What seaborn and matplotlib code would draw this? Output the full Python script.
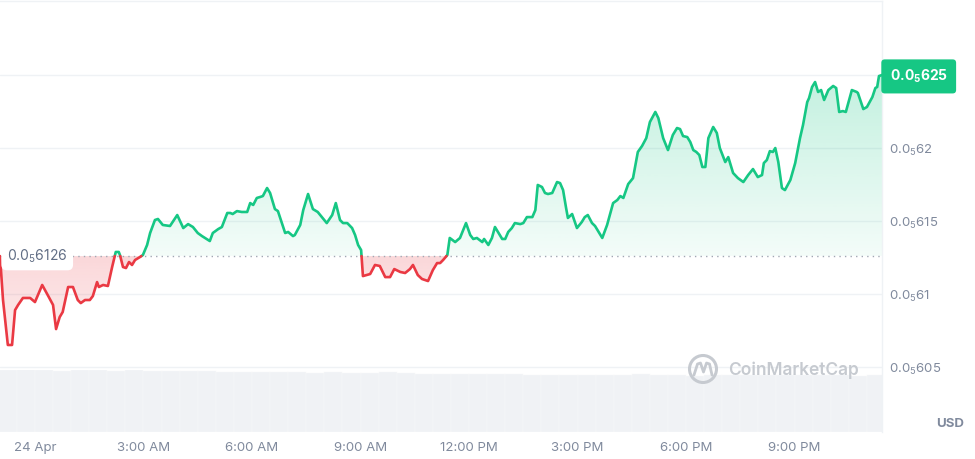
import numpy as np
import pandas as pd
import matplotlib
matplotlib.use("Agg")
import matplotlib.pyplot as plt
import seaborn as sns
from matplotlib.patches import PathPatch, Ellipse
from matplotlib.path import Path
from matplotlib.lines import Line2D
from matplotlib.colors import to_rgb

# --- DATA ---
# time: minutes from 00:00 on 24 Apr; price: in units of 1e-6 USD (6.25 -> 0.0_5 625)
minutes = [
    -58, -53, -45, -38, -33, -28, -20, -8, 0, 12,
    23, 30, 35, 41, 46, 55, 63, 71, 76, 83,
    91, 96, 103, 106, 113, 121, 128, 134, 139, 141,
    146, 151, 156, 161, 166, 174, 179, 186, 191, 199,
    204, 212, 224, 236, 246, 254, 262, 270, 277, 282,
    290, 295, 304, 310, 319, 324, 328, 335, 343, 352,
    357, 362, 368, 373, 378, 385, 390, 398, 403, 415,
    420, 428, 431, 440, 445, 453, 461, 469, 484, 493,
    499, 506, 511, 518, 526, 531, 536, 541, 544, 556,
    564, 572, 581, 589, 596, 606, 614, 622, 627, 635,
    642, 652, 660, 667, 672, 677, 684, 688, 697, 705,
    715, 722, 727, 733, 742, 745, 752, 758, 763, 768,
    775, 780, 785, 791, 796, 805, 810, 816, 825, 830,
    834, 841, 846, 851, 858, 866, 871, 876, 881, 884,
    891, 899, 907, 912, 917, 924, 929, 941, 949, 959,
    966, 971, 976, 984, 992, 1000, 1007, 1014, 1020, 1029,
    1034, 1042, 1050, 1058, 1065, 1070, 1075, 1082, 1087, 1092,
    1097, 1102, 1107, 1112, 1117, 1125, 1131, 1136, 1145, 1150,
    1158, 1166, 1175, 1183, 1191, 1199, 1206, 1209, 1214, 1219,
    1224, 1228, 1233, 1239, 1244, 1253, 1261, 1269, 1274, 1281,
    1284, 1289, 1294, 1299, 1304, 1309, 1316, 1324, 1329, 1334,
    1340, 1345, 1355, 1363, 1365, 1374, 1380, 1389, 1394, 1397, 1400, 1405,
]
price = [
    6.126, 6.0959, 6.0651, 6.0651, 6.0890, 6.0925, 6.0973, 6.0973, 6.0945, 6.1062,
    6.0979, 6.0925, 6.0760, 6.0842, 6.0877, 6.1048, 6.1048, 6.0959, 6.0938, 6.0959,
    6.0959, 6.0986, 6.1082, 6.1048, 6.1062, 6.1055, 6.1185, 6.1288, 6.1288, 6.1267,
    6.1185, 6.1178, 6.1219, 6.1199, 6.1233, 6.1253, 6.1267, 6.1336, 6.1418, 6.1507,
    6.1514, 6.1473, 6.1466, 6.1541, 6.1452, 6.1479, 6.1459, 6.1418, 6.1397, 6.1384,
    6.1363, 6.1418, 6.1445, 6.1459, 6.1555, 6.1555, 6.1548, 6.1568, 6.1562, 6.1562,
    6.1623, 6.1610, 6.1658, 6.1664, 6.1671, 6.1726, 6.1692, 6.1582, 6.1568, 6.1418,
    6.1425, 6.1397, 6.1404, 6.1473, 6.1575, 6.1685, 6.1582, 6.1562, 6.1486, 6.1541,
    6.1623, 6.1507, 6.1486, 6.1486, 6.1452, 6.1404, 6.1336, 6.1301, 6.1123, 6.1137,
    6.1199, 6.1192, 6.1116, 6.1116, 6.1171, 6.1151, 6.1144, 6.1171, 6.1199, 6.1130,
    6.1103, 6.1089, 6.1164, 6.1212, 6.1212, 6.1233, 6.1267, 6.1384, 6.1356, 6.1384,
    6.1486, 6.1404, 6.1377, 6.1384, 6.1356, 6.1377, 6.1336, 6.1384, 6.1459, 6.1425,
    6.1377, 6.1377, 6.1425, 6.1452, 6.1486, 6.1479, 6.1486, 6.1527, 6.1527, 6.1575,
    6.1747, 6.1733, 6.1692, 6.1685, 6.1692, 6.1767, 6.1760, 6.1712, 6.1589, 6.1521,
    6.1548, 6.1452, 6.1493, 6.1527, 6.1541, 6.1486, 6.1466, 6.1384, 6.1473, 6.1623,
    6.1644, 6.1671, 6.1658, 6.1753, 6.1794, 6.1973, 6.2014, 6.2068, 6.2178, 6.2247,
    6.2205, 6.2068, 6.1986, 6.2089, 6.2137, 6.2130, 6.2082, 6.2075, 6.2041, 6.1986,
    6.1973, 6.1952, 6.1870, 6.1870, 6.2068, 6.2144, 6.2103, 6.2000, 6.1904, 6.1938,
    6.1829, 6.1794, 6.1767, 6.1815, 6.1856, 6.1801, 6.1815, 6.1897, 6.1918, 6.1979,
    6.1973, 6.2000, 6.1904, 6.1726, 6.1712, 6.1781, 6.1897, 6.2068, 6.2158, 6.2315,
    6.2342, 6.2418, 6.2452, 6.2384, 6.2397, 6.2329, 6.2397, 6.2425, 6.2411, 6.2247,
    6.2253, 6.2247, 6.2397, 6.2384, 6.2377, 6.2267, 6.2281, 6.2349, 6.2411, 6.2418, 6.2493, 6.2500,
]

# volume, 30 minute buckets starting at 23:00 on 23 Apr (relative units)
vol_start = -60
vol_step = 30
volume = [
    100, 101, 100, 99, 100, 100, 99, 100, 99, 99,
    98, 98, 97, 96, 97, 96, 96, 95, 96, 95,
    95, 96, 95, 94, 94, 93, 93, 93, 93, 92,
    92, 92, 92, 92, 92, 93, 92, 92, 91, 92,
    92, 92, 92, 92, 92, 92, 92, 91, 92,
]

tick_minutes = [0, 180, 360, 540, 720, 900, 1080, 1260]
tick_labels = ["24 Apr", "3:00 AM", "6:00 AM", "9:00 AM",
               "12:00 PM", "3:00 PM", "6:00 PM", "9:00 PM"]
price_ticks = [6.05, 6.10, 6.15, 6.20, 6.25]

GREEN = "#16c784"
RED = "#ea3943"
GREY = "#808a9d"
GRID = "#eff2f5"


def sub_label(v):
    digits = f"{v:.4f}".rstrip("0").rstrip(".").replace(".", "")
    return "0.0$_5$" + digits


def split_at_base(t, p, base):
    """Insert crossing points and tag each run above/below the base price."""
    d = p - base
    sides = np.sign(d)
    for i in range(len(sides)):
        if sides[i] == 0:
            sides[i] = sides[i + 1] if i + 1 < len(sides) else sides[i - 1]
    rows, seg = [], 0
    for i in range(len(t)):
        side = "up" if sides[i] > 0 else "down"
        rows.append((t[i], p[i], seg, side))
        if i + 1 < len(t) and sides[i + 1] != sides[i]:
            if p[i + 1] != p[i]:
                tc = t[i] + (base - p[i]) / (p[i + 1] - p[i]) * (t[i + 1] - t[i])
            else:
                tc = t[i]
            rows.append((tc, base, seg, side))
            seg += 1
            nside = "up" if sides[i + 1] > 0 else "down"
            rows.append((tc, base, seg, nside))
    return pd.DataFrame(rows, columns=["t", "p", "seg", "side"])


def gradient_fill(ax, t, lo, hi, color, a_top, a_bottom, y0, y1):
    coll = ax.fill_between(t, lo, hi, facecolor="none", edgecolor="none")
    path = Path.make_compound_path(*coll.get_paths())
    clip = PathPatch(path, transform=ax.transData, facecolor="none", edgecolor="none")
    ax.add_patch(clip)
    rgb = to_rgb(color)
    img = np.zeros((200, 1, 4))
    img[:, 0, :3] = rgb
    img[:, 0, 3] = np.linspace(a_bottom, a_top, 200)
    im = ax.imshow(img, extent=[t.min(), t.max(), y0, y1], origin="lower",
                   aspect="auto", zorder=1, interpolation="bilinear")
    im.set_clip_path(clip)


sns.set_theme(style="white")
plt.rcParams["font.family"] = ["Inter", "DejaVu Sans"]
plt.rcParams["mathtext.default"] = "regular"

W, H = 975, 459
fig = plt.figure(figsize=(W / 100, H / 100), dpi=100)
fig.patch.set_facecolor("white")

ax_l, ax_b, ax_w = 0.0, 27 / H, 882 / W
ax_h = 431 / H
xlim = (-58, 1405)
ylim = (6.0055, 6.3007)

# volume panel underneath
ax_vol = fig.add_axes([ax_l, ax_b, ax_w, 62 / H], zorder=0)
vol_t = vol_start + vol_step * np.arange(len(volume))
ax_vol.bar(vol_t, volume, width=vol_step, align="edge",
           color="#f0f2f5", edgecolor="#f8f9fa", linewidth=0.3)
ax_vol.set_xlim(*xlim)
ax_vol.set_ylim(0, 100)
ax_vol.axis("off")

ax = fig.add_axes([ax_l, ax_b, ax_w, ax_h], zorder=1)
ax.patch.set_visible(False)

t = np.array(minutes, float)
p = np.array(price, float)
base = p[0]
df = split_at_base(t, p, base)
tt = df["t"].to_numpy()
pp = df["p"].to_numpy()

gradient_fill(ax, tt, np.maximum(pp, base), base, GREEN, 0.26, 0.05, base, pp.max())
gradient_fill(ax, tt, np.minimum(pp, base), base, RED, 0.20, 0.09, pp.min(), base)

ax.axhline(base, color="#a1a7b3", lw=1, ls=(0, (1, 3)), zorder=1.5)

sns.lineplot(data=df[df.side == "up"], x="t", y="p", units="seg", estimator=None,
             sort=False, color=GREEN, lw=1.9, ax=ax, zorder=3)
sns.lineplot(data=df[df.side == "down"], x="t", y="p", units="seg", estimator=None,
             sort=False, color=RED, lw=1.9, ax=ax, zorder=3)

ax.set_xlim(*xlim)
ax.set_ylim(*ylim)
ax.set_xlabel("")
ax.set_ylabel("")

ax.set_xticks(tick_minutes)
ax.set_xticklabels(tick_labels)
ax.yaxis.tick_right()
ax.set_yticks(price_ticks)
ax.set_yticklabels([sub_label(v) if v < 6.25 else "" for v in price_ticks])
ax.tick_params(axis="x", length=0, pad=7, labelsize=9.5, labelcolor=GREY)
ax.tick_params(axis="y", length=0, pad=5, labelsize=9.5, labelcolor=GREY)
ax.grid(axis="y", color=GRID, lw=1)
ax.grid(axis="x", visible=False)
for side in ["left", "bottom"]:
    ax.spines[side].set_visible(False)
for side in ["right", "top"]:
    ax.spines[side].set_color(GRID)
    ax.spines[side].set_linewidth(1)

# baseline label
ax.annotate(sub_label(base), xy=(0, base), xycoords=("axes fraction", "data"),
            xytext=(5, 0), textcoords="offset points", ha="left", va="center",
            fontsize=10, color="#616e85", zorder=5,
            bbox=dict(boxstyle="round,pad=0.4", fc="white", ec="none"))

# last price badge
ax.annotate(sub_label(p[-1]), xy=(1, p[-1]), xycoords=("axes fraction", "data"),
            xytext=(5.5, -1), textcoords="offset points", ha="left", va="center",
            fontsize=10, color="white", fontweight="bold", annotation_clip=False,
            zorder=6,
            bbox=dict(boxstyle="round,pad=0.6,rounding_size=0.25", fc=GREEN, ec="none"))

fig.text(950 / W, 1 - 424 / H, "USD", ha="center", va="center",
         fontsize=9.5, fontweight="bold", color=GREY)

# watermark
WM = "#c6cad0"
fig.text(728 / W, 1 - 370 / H, "CoinMarketCap", ha="left", va="center",
         fontsize=12.5, fontweight="semibold", color=WM, zorder=2)
fig.add_artist(Ellipse((703 / W, 1 - 369 / H), 27 / W, 27 / H, fill=False,
                       ec=WM, lw=2.2, transform=fig.transFigure, zorder=2))
mx = np.array([694, 697.5, 700.5, 703.5, 706.5, 709.5, 712]) / W
my = 1 - np.array([375, 364, 363, 372, 363, 364, 375]) / H
fig.add_artist(Line2D(mx, my, color=WM, lw=2, transform=fig.transFigure,
                      solid_joinstyle="round", zorder=2))

fig.savefig("out.png", dpi=100, facecolor="white")
